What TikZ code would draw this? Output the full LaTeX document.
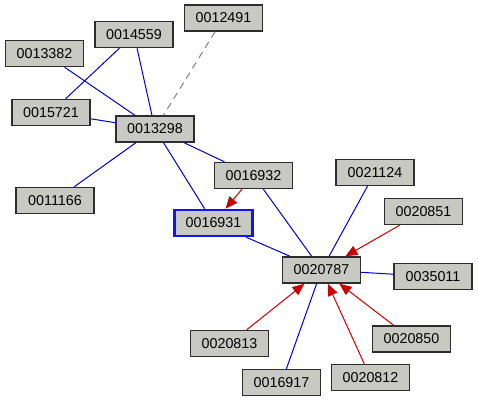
\documentclass[tikz,border=0pt]{standalone}
\usepackage{fontspec}
\setmainfont{Liberation Sans}
\usetikzlibrary{arrows.meta}
\definecolor{boxfill}{RGB}{200,201,195}
\definecolor{boxline}{RGB}{45,45,45}
\definecolor{linkblue}{RGB}{0,0,204}
\definecolor{linkred}{RGB}{204,0,0}
\definecolor{dashgray}{RGB}{128,128,128}
\definecolor{selblue}{RGB}{20,20,240}
\tikzset{
  item/.style={draw=boxline, line width=1.4pt, fill=boxfill, minimum width=78pt, minimum height=26pt, inner sep=0pt, font=\fontsize{14.3}{15}\selectfont},
  selitem/.style={item, draw=selblue, line width=2.6pt},
  link/.style={draw=linkblue, line width=1pt},
  dep/.style={draw=linkred, line width=1pt, -{Triangle[length=12pt,width=10pt]}},
  weak/.style={draw=dashgray, line width=1pt, dash pattern=on 7pt off 5pt}
}
\begin{document}
\begin{tikzpicture}[x=1pt,y=-1pt]
\useasboundingbox (0,0) rectangle (478,402);
\coordinate (c14559) at (134,34.5);
\coordinate (c13382) at (44.5,53.5);
\coordinate (c12491) at (223.5,18);
\coordinate (c15721) at (51,112.5);
\coordinate (c13298) at (155,129);
\coordinate (c11166) at (55,200.5);
\coordinate (c16932) at (253.5,175.5);
\coordinate (c21124) at (375,172.5);
\coordinate (c20851) at (423.5,211.5);
\coordinate (c16931) at (213.5,223);
\coordinate (c20787) at (321.5,270);
\coordinate (c35011) at (433,276.5);
\coordinate (c20813) at (229.5,343.5);
\coordinate (c20850) at (411.5,339);
\coordinate (c16917) at (281.5,382.5);
\coordinate (c20812) at (370.5,377.5);

\node[item] (n14559) at (c14559) {0014559};
\node[item] (n13382) at (c13382) {0013382};
\node[item] (n12491) at (c12491) {0012491};
\node[item] (n15721) at (c15721) {0015721};
\node[item] (n13298) at (c13298) {0013298};
\node[item] (n11166) at (c11166) {0011166};
\node[item] (n16932) at (c16932) {0016932};
\node[item] (n21124) at (c21124) {0021124};
\node[item] (n20851) at (c20851) {0020851};
\node[selitem] (n16931) at (c16931) {0016931};
\node[item] (n20787) at (c20787) {0020787};
\node[item] (n35011) at (c35011) {0035011};
\node[item] (n20813) at (c20813) {0020813};
\node[item] (n20850) at (c20850) {0020850};
\node[item] (n16917) at (c16917) {0016917};
\node[item] (n20812) at (c20812) {0020812};

\draw[link] (n13382) -- (n13298);
\draw[link] (n14559) -- (n15721);
\draw[link] (n14559) -- (n13298);
\draw[weak] (n12491) -- (n13298);
\draw[link] (n15721) -- (n13298);
\draw[link] (n11166) -- (n13298);
\draw[link] (n13298) -- (n16932);
\draw[link] (n13298) -- (n16931);
\draw[dep] (n16932) -- (n16931);
\draw[link] (n16932) -- (n20787);
\draw[link] (n16931) -- (n20787);
\draw[link] (n21124) -- (n20787);
\draw[dep] (n20851) -- (n20787);
\draw[link] (n35011) -- (n20787);
\draw[dep] (n20813) -- (n20787);
\draw[link] (n16917) -- (n20787);
\draw[dep] (n20812) -- (n20787);
\draw[dep] (n20850) -- (n20787);
\end{tikzpicture}
\end{document}
